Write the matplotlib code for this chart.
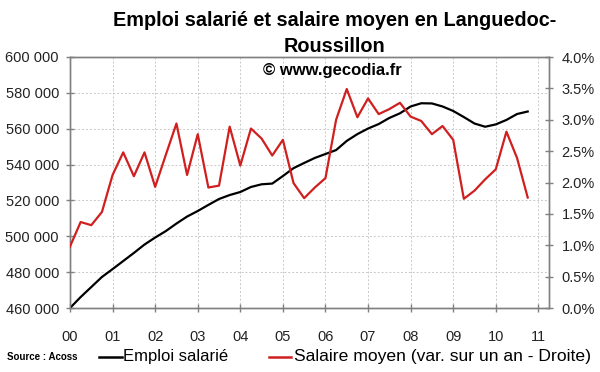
import matplotlib
matplotlib.use("Agg")
import matplotlib.pyplot as plt
from matplotlib.lines import Line2D
import numpy as np

plt.rcParams['font.family'] = ['Liberation Sans', 'DejaVu Sans']

# Quarterly data, 2000 Q1 .. 2010 Q4
emploi = [460000, 466100, 471700, 477300, 481700, 486200, 490700, 495400,
          499300, 502900, 507100, 511000, 514100, 517500, 520800, 523000,
          524700, 527500, 529000, 529400, 533600, 538000, 540900, 543700,
          545900, 548100, 553200, 557000, 560100, 562600, 566000, 568600,
          572400, 574200, 574100, 572400, 569900, 566500, 562900, 561100,
          562400, 564900, 568200, 569600]
salaire = [0.98, 1.37, 1.32, 1.53, 2.12, 2.48, 2.10, 2.48,
           1.93, 2.44, 2.94, 2.12, 2.77, 1.92, 1.95, 2.89,
           2.27, 2.86, 2.70, 2.43, 2.68, 1.99, 1.75, 1.92,
           2.07, 3.00, 3.49, 3.04, 3.34, 3.09, 3.17, 3.27,
           3.05, 2.98, 2.77, 2.90, 2.68, 1.74, 1.87, 2.05,
           2.21, 2.81, 2.39, 1.76]
year_labels = ['00', '01', '02', '03', '04', '05', '06', '07', '08', '09', '10', '11']
left_ticks = [460000, 480000, 500000, 520000, 540000, 560000, 580000, 600000]
right_ticks = [0.0, 0.5, 1.0, 1.5, 2.0, 2.5, 3.0, 3.5, 4.0]

x = np.arange(len(emploi)) / 4.0

fig = plt.figure(figsize=(6, 3.72), dpi=100)
ax = fig.add_axes([70/600, 1-308/372, (549-70)/600, (308-57)/372])
ax2 = ax.twinx()

red = '#D01F1F'
gray = '#808080'
ax.plot(x, emploi, color='black', lw=1.6, zorder=3)
ax2.plot(x, salaire, color=red, lw=1.6, zorder=3)

ax.set_xlim(0, 11.25)
ax.set_ylim(460000, 600000)
ax2.set_ylim(0, 4.0)
ax.set_xticks(range(len(year_labels)))
ax.set_xticklabels(year_labels)
ax.set_yticks(left_ticks)
ax.set_yticklabels([f"{v:,}".replace(',', ' ') for v in left_ticks])
ax2.set_yticks(right_ticks)
ax2.set_yticklabels([f"{v:.1f}%" for v in right_ticks])

ax.grid(True, color='#C8C8C8', linestyle=(0, (2, 2)), lw=0.7)
ax.set_axisbelow(True)

for a in (ax, ax2):
    for s in a.spines.values():
        s.set_color(gray)
        s.set_linewidth(1.0)
    a.tick_params(direction='inout', length=6, width=1.0, color=gray,
                  labelsize=10.5, labelcolor='#222222')
ax.tick_params(axis='x', pad=13)
ax.tick_params(axis='y', pad=5)
ax2.tick_params(axis='y', pad=6)

fig.text(0.557, 1-21/372, "Emploi salarié et salaire moyen en Languedoc-",
         ha='center', va='center', fontsize=14.3, fontweight='bold')
fig.text(0.557, 1-47/372, "Roussillon",
         ha='center', va='center', fontsize=14.3, fontweight='bold')
fig.text(332/600, 1-70/372, "© www.gecodia.fr",
         ha='center', va='center', fontsize=12, fontweight='bold')

ly = 1-357/372
fig.text(7/600, ly, "Source : Acoss", ha='left', va='center',
         fontsize=7, fontweight='bold')
fig.add_artist(Line2D([99/600, 122/600], [ly, ly], color='black', lw=1.8))
fig.text(123/600, ly, "Emploi salarié", ha='left', va='center', fontsize=12)
fig.add_artist(Line2D([269/600, 291/600], [ly, ly], color=red, lw=1.8))
fig.text(294/600, ly, "Salaire moyen (var. sur un an - Droite)",
         ha='left', va='center', fontsize=12.6)

fig.savefig("out.png", dpi=100, facecolor='white')
